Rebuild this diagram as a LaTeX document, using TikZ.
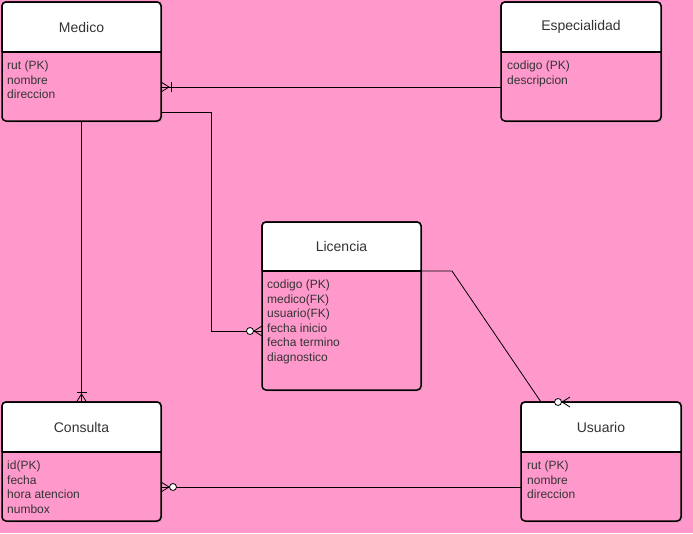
\documentclass[tikz,border=0pt]{standalone}
\usepackage{fontspec}
\setmainfont{Liberation Sans}
\usetikzlibrary{shadows}
\definecolor{bgpink}{RGB}{255,153,204}
\definecolor{txtgray}{RGB}{51,51,51}

\tikzset{
  entity/.style={draw, line width=1.5pt, rounded corners=4pt, fill=bgpink, inner sep=0pt, outer sep=0pt,
    drop shadow={opacity=0.25, shadow xshift=1.5pt, shadow yshift=-1.5pt}},
  header/.style={draw, line width=1.5pt, fill=white, rounded corners=4pt},
  title/.style={font=\fontsize{14}{16}\selectfont, text=txtgray},
  attrs/.style={anchor=north west, inner sep=0pt, align=left, font=\fontsize{12}{14.5}\selectfont, text=txtgray},
  rel/.style={line width=0.8pt},
  pics/onemany/.style={code={
    \draw[rel] (0,-5) -- (8,0) -- (0,5);
    \draw[rel] (0,0) -- (12,0);
    \draw[rel] (10,-5) -- (10,5);}},
  pics/zeromany/.style={code={
    \draw[rel] (0,-5) -- (8,0) -- (0,5);
    \draw[rel] (0,0) -- (8,0);
    \draw[rel, fill=white] (12,0) circle (3.5);}}
}

\begin{document}
\begin{tikzpicture}[x=1pt, y=-1pt]
  % Background
  \fill[bgpink] (0,0) rectangle (693,533);
  \useasboundingbox (0,0) rectangle (693,533);

  % Medico
  \node[entity, minimum width=159pt, minimum height=119pt] (medico) at (81.5,61.5) {};
  \path[header] (medico.west |- 0,52) -- (medico.north west) -- (medico.north east) -- (medico.east |- 0,52);
  \draw[line width=1.5pt] (medico.west |- 0,52) -- (medico.east |- 0,52);
  \node[title] (medicoT) at (81.5,27) {Medico};
  \node[attrs] (medicoA) at (7,61) {rut (PK)\\nombre\\direccion};

  % Especialidad
  \node[entity, minimum width=160pt, minimum height=119pt] (especialidad) at (581,61.5) {};
  \path[header] (especialidad.west |- 0,52) -- (especialidad.north west) -- (especialidad.north east) -- (especialidad.east |- 0,52);
  \draw[line width=1.5pt] (especialidad.west |- 0,52) -- (especialidad.east |- 0,52);
  \node[title] (especialidadT) at (581,27) {Especialidad};
  \node[attrs] (especialidadA) at (507,61) {codigo (PK)\\descripcion};

  % Licencia
  \node[entity, minimum width=159pt, minimum height=168pt] (licencia) at (341.5,306) {};
  \path[header] (licencia.west |- 0,271) -- (licencia.north west) -- (licencia.north east) -- (licencia.east |- 0,271);
  \draw[line width=1.5pt] (licencia.west |- 0,271) -- (licencia.east |- 0,271);
  \node[title] (licenciaT) at (341.5,246.5) {Licencia};
  \node[attrs] (licenciaA) at (267,280) {codigo (PK)\\medico(FK)\\usuario(FK)\\fecha inicio\\fecha termino\\diagnostico};

  % Consulta
  \node[entity, minimum width=159pt, minimum height=119pt] (consulta) at (81.5,461.5) {};
  \path[header] (consulta.west |- 0,452) -- (consulta.north west) -- (consulta.north east) -- (consulta.east |- 0,452);
  \draw[line width=1.5pt] (consulta.west |- 0,452) -- (consulta.east |- 0,452);
  \node[title] (consultaT) at (81.5,427) {Consulta};
  \node[attrs] (consultaA) at (7,461) {id(PK)\\fecha\\hora atencion\\numbox};

  % Usuario
  \node[entity, minimum width=160pt, minimum height=119pt] (usuario) at (601,461.5) {};
  \path[header] (usuario.west |- 0,452) -- (usuario.north west) -- (usuario.north east) -- (usuario.east |- 0,452);
  \draw[line width=1.5pt] (usuario.west |- 0,452) -- (usuario.east |- 0,452);
  \node[title] (usuarioT) at (601,427) {Usuario};
  \node[attrs] (usuarioA) at (527,461) {rut (PK)\\nombre\\direccion};

  % Relations
  \draw[rel] (especialidad.west |- 0,87) -- (medico.east |- 0,87);
  \pic at (medico.east |- 0,87) {onemany};

  \draw[rel] (medico.east |- 0,112) -- ++(50,0) |- (licencia.west |- 0,331);
  \pic[rotate=180] at (licencia.west |- 0,331) {zeromany};

  \draw[rel] (medico.south) -- (consulta.north);
  \pic[rotate=90] at (consulta.north) {onemany};

  \draw[rel] (licencia.east |- 0,271) -- ++(31,0) -- ([xshift=20pt]usuario.north west) -- ([xshift=49pt]usuario.north west);
  \pic[rotate=180] at ([xshift=49pt]usuario.north west) {zeromany};

  \draw[rel] (usuario.west |- 0,487) -- (consulta.east |- 0,487);
  \pic at (consulta.east |- 0,487) {zeromany};
\end{tikzpicture}
\end{document}
